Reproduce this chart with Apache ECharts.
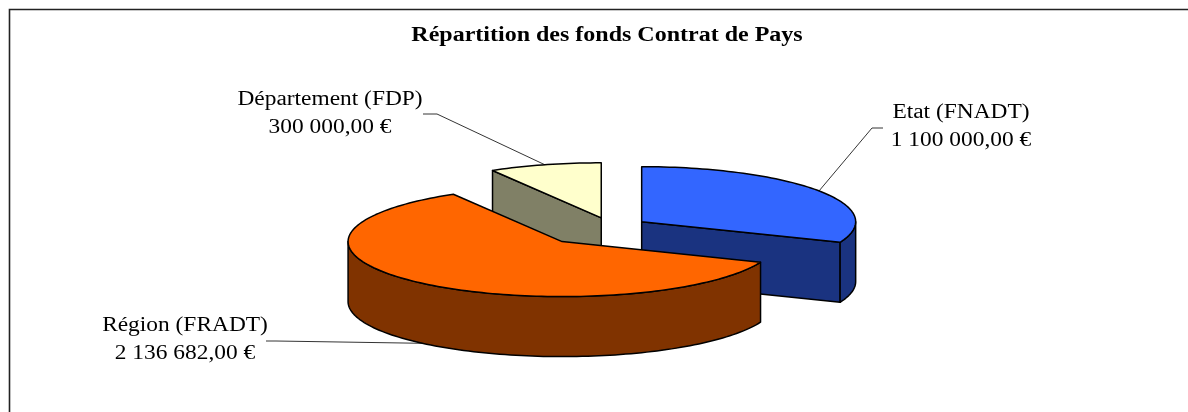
<!DOCTYPE html>
<html><head><meta charset="utf-8">
<script src="https://cdn.jsdelivr.net/npm/echarts@6/dist/echarts.min.js"></script>
<style>html,body{margin:0;padding:0;background:#fff}#chart{width:1188px;height:412px}</style>
</head><body><div id="chart"></div>
<script>
// ---- data ----
const categories = ['Etat (FNADT)', 'Région (FRADT)', 'Département (FDP)'];
const values = [1100000, 2136682, 300000];
const valueLabels = ['1 100 000,00 €', '2 136 682,00 €', '300 000,00 €'];
const chartTitle = 'Répartition des fonds Contrat de Pays';

// ---- styles ----
const topColors = ['#3366FF', '#FF6600', '#FFFFCC'];
const sideColors = ['#1A3380', '#803300', '#808066'];
const FONT = "'Liberation Serif', 'Times New Roman', serif";

// ---- layout ----
const layout = {
  cx: 611, cy: 227, rx: 214, ry: 55, depth: 60,
  explode: [37, 75, 37],
  anchorOnBottom: [false, true, false],
  labelCenter: [[961, 113], [185, 326], [330, 100]],
  lineGap: 28,
  elbow: [[872, 128], [276, 341], [437, 114]],
  leaderEnd: [[883, 128], [266, 341], [423, 114]],
  textScaleX: 1.17
};

const total = values.reduce((s, v) => s + v, 0);
const rad = d => d * Math.PI / 180;
function sliceInfo(i) {
  let start = 0;
  for (let k = 0; k < i; k++) start += values[k] / total * 360;
  const end = start + values[i] / total * 360;
  const mid = (start + end) / 2;
  const ex = layout.explode[i];
  const ax = layout.cx + ex * Math.sin(rad(mid));
  const ay = layout.cy - ex * Math.cos(rad(mid)) * (layout.ry / layout.rx);
  return { start, end, mid, ax, ay };
}
const infos = values.map((v, i) => sliceInfo(i));
const depthOrder = infos.map((s, i) => i).sort((p, q) => infos[p].ay - infos[q].ay);

function renderItem(params, api) {
  const i = params.dataIndex;
  const { start, end, mid, ax, ay } = infos[i];
  const { rx, ry, depth } = layout;
  const pt = (deg, dz) => [ax + rx * Math.sin(rad(deg)), ay - ry * Math.cos(rad(deg)) + (dz || 0)];
  const arc = (a0, a1, dz) => {
    const n = Math.max(2, Math.ceil(Math.abs(a1 - a0) / 1.5));
    const pts = [];
    for (let j = 0; j <= n; j++) pts.push(pt(a0 + (a1 - a0) * j / n, dz));
    return pts;
  };
  const rank = depthOrder.indexOf(i);
  const base = rank * 10;
  const edge = { stroke: '#000', lineWidth: 1.5, lineJoin: 'round' };
  const children = [];
  // radial walls
  const walls = [[start, start - 90], [end, end + 90]];
  walls.forEach(([ang, n]) => {
    if (Math.cos(rad(n - 180)) > 0.02) {
      children.push({
        type: 'polygon', z2: base + 1,
        shape: { points: [[ax, ay], pt(ang), pt(ang, depth), [ax, ay + depth]] },
        style: Object.assign({ fill: sideColors[i] }, edge)
      });
    }
  });
  // outer curved wall (front half)
  [[90, 270], [450, 630]].forEach(([f0, f1]) => {
    const t0 = Math.max(start, f0), t1 = Math.min(end, f1);
    if (t1 > t0) {
      const topArc = arc(t0, t1, 0);
      const botArc = arc(t0, t1, depth).reverse();
      children.push({
        type: 'polygon', z2: base + 2,
        shape: { points: topArc.concat(botArc) },
        style: Object.assign({ fill: sideColors[i] }, edge)
      });
    }
  });
  // top face
  children.push({
    type: 'polygon', z2: base + 3,
    shape: { points: [[ax, ay]].concat(arc(start, end, 0)) },
    style: Object.assign({ fill: topColors[i] }, edge)
  });
  // leader line
  const anchor = pt(mid, layout.anchorOnBottom[i] ? depth : 0);
  children.push({
    type: 'polyline', z2: 100,
    shape: { points: [anchor, layout.elbow[i], layout.leaderEnd[i]] },
    style: { stroke: '#000', lineWidth: 0.8, fill: null }
  });
  // label
  const [lx, ly] = layout.labelCenter[i];
  [categories[i], valueLabels[i]].forEach((t, k) => {
    children.push({
      type: 'text', z2: 101,
      x: lx, y: ly + k * layout.lineGap, scaleX: layout.textScaleX,
      style: { text: t, x: 0, y: 0, align: 'center', verticalAlign: 'middle',
               fill: '#000', font: '20px ' + FONT }
    });
  });
  return { type: 'group', children };
}

const chart = echarts.init(document.getElementById('chart'), null, { renderer: 'canvas' });
chart.setOption({
  animation: false,
  backgroundColor: '#fff',
  graphic: [
    { type: 'rect', shape: { x: 9.5, y: 9.5, width: 1200, height: 430 },
      style: { fill: null, stroke: '#222', lineWidth: 1.6 } },
    { type: 'text', x: 607, y: 36, scaleX: 1.2,
      style: { text: chartTitle, x: 0, y: 0, align: 'center', verticalAlign: 'middle',
               fill: '#000', font: 'bold 20px ' + FONT } }
  ],
  series: [{
    type: 'custom',
    coordinateSystem: 'none',
    name: 'Contrat de Pays',
    data: values.map((v, i) => ({ name: categories[i], value: [v] })),
    renderItem: renderItem
  }]
});
</script></body></html>
